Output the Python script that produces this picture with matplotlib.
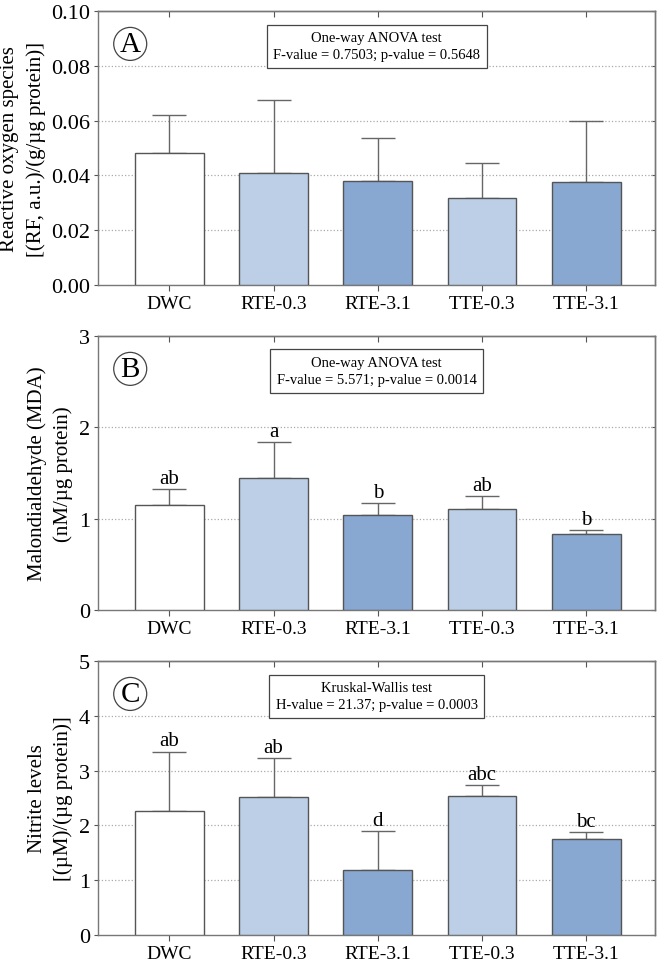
import matplotlib
matplotlib.use("Agg")
import matplotlib.pyplot as plt
import numpy as np

plt.rcParams['font.family'] = ['Liberation Serif', 'DejaVu Serif']

categories = ["DWC", "RTE-0.3", "RTE-3.1", "TTE-0.3", "TTE-3.1"]
colors = ["#ffffff", "#bccfe7", "#88a8d1", "#bccfe7", "#88a8d1"]

ros_mean = [0.0481, 0.0408, 0.0379, 0.0318, 0.0376]
ros_top = [0.0621, 0.0674, 0.0537, 0.0446, 0.0598]

mda_mean = [1.144, 1.450, 1.045, 1.103, 0.829]
mda_top = [1.323, 1.841, 1.169, 1.246, 0.873]
mda_letters = ["ab", "a", "b", "ab", "b"]

nit_mean = [2.268, 2.524, 1.183, 2.537, 1.756]
nit_top = [3.348, 3.226, 1.890, 2.744, 1.884]
nit_letters = ["ab", "ab", "d", "abc", "bc"]

panels = [
    dict(mean=ros_mean, top=ros_top, letters=None, ylim=(0, 0.10),
         yticks=[0.00, 0.02, 0.04, 0.06, 0.08, 0.10], fmt="{:.2f}",
         ylabel="Reactive oxygen species\n[(RF, a.u.)/(g/µg protein)]",
         tag="A", box="One-way ANOVA test\nF-value = 0.7503; p-value = 0.5648"),
    dict(mean=mda_mean, top=mda_top, letters=mda_letters, ylim=(0, 3),
         yticks=[0, 1, 2, 3], fmt="{:d}",
         ylabel="Malondialdehyde (MDA)\n(nM/µg protein)",
         tag="B", box="One-way ANOVA test\nF-value = 5.571; p-value = 0.0014"),
    dict(mean=nit_mean, top=nit_top, letters=nit_letters, ylim=(0, 5),
         yticks=[0, 1, 2, 3, 4, 5], fmt="{:d}",
         ylabel="Nitrite levels\n[(µM)/(µg protein)]",
         tag="C", box="Kruskal-Wallis test\nH-value = 21.37; p-value = 0.0003"),
]

fig = plt.figure(figsize=(6.61, 9.62), dpi=100)
bottoms = [0.7027, 0.3649, 0.027]
x = np.arange(len(categories))
edge = "#555555"
for p, b in zip(panels, bottoms):
    ax = fig.add_axes([0.149, b, 0.842, 0.2848])
    mean = np.array(p["mean"])
    err = np.array(p["top"]) - mean
    ax.bar(x, mean, width=0.66, color=colors, edgecolor=edge, linewidth=1.0, zorder=3)
    ax.errorbar(x, mean, yerr=[np.zeros_like(err), err], fmt="none", ecolor="#666666",
                elinewidth=1.0, capsize=12, capthick=1.0, zorder=2)
    ax.set_xlim(-0.68, 4.66)
    ax.set_ylim(*p["ylim"])
    ax.set_yticks(p["yticks"])
    ax.set_yticklabels([p["fmt"].format(v) for v in p["yticks"]], fontsize=16)
    ax.set_xticks(x)
    ax.set_xticklabels(categories, fontsize=14)
    ax.tick_params(axis="y", direction="out", length=3, color=edge, pad=3)
    ax.tick_params(axis="x", direction="out", length=4, color=edge, pad=3)
    # inward ticks on the top and right frame
    sx = ax.secondary_xaxis("top")
    sx.set_xticks(x)
    sx.tick_params(direction="in", length=4, color=edge, labeltop=False)
    sy = ax.secondary_yaxis("right")
    sy.set_yticks(p["yticks"])
    sy.tick_params(direction="in", length=3, color=edge, labelright=False)
    for a in (ax, sx, sy):
        for sp in a.spines.values():
            sp.set_color("#777777")
            sp.set_linewidth(1.0)
    for yt in p["yticks"][1:-1]:
        ax.axhline(yt, color="#aaaaaa", linestyle=":", linewidth=0.9, zorder=1)
    ax.set_ylabel(p["ylabel"], fontsize=15, linespacing=1.45, labelpad=4)
    if p["letters"]:
        rng = p["ylim"][1]
        for xi, t, lt in zip(x, p["top"], p["letters"]):
            ax.text(xi, t + 0.004 * rng, lt, ha="center", va="bottom", fontsize=15)
    ax.text(0.057, 0.88, p["tag"], transform=ax.transAxes, ha="center", va="center",
            fontsize=21,
            bbox=dict(boxstyle="circle,pad=0.12", fc="white", ec="#444444", lw=0.9))
    ax.text(0.5, 0.872, p["box"], transform=ax.transAxes, ha="center", va="center",
            fontsize=10.5, linespacing=1.4,
            bbox=dict(boxstyle="square,pad=0.45", fc="white", ec="#444444", lw=0.9))

fig.savefig("out.png", dpi=100)
